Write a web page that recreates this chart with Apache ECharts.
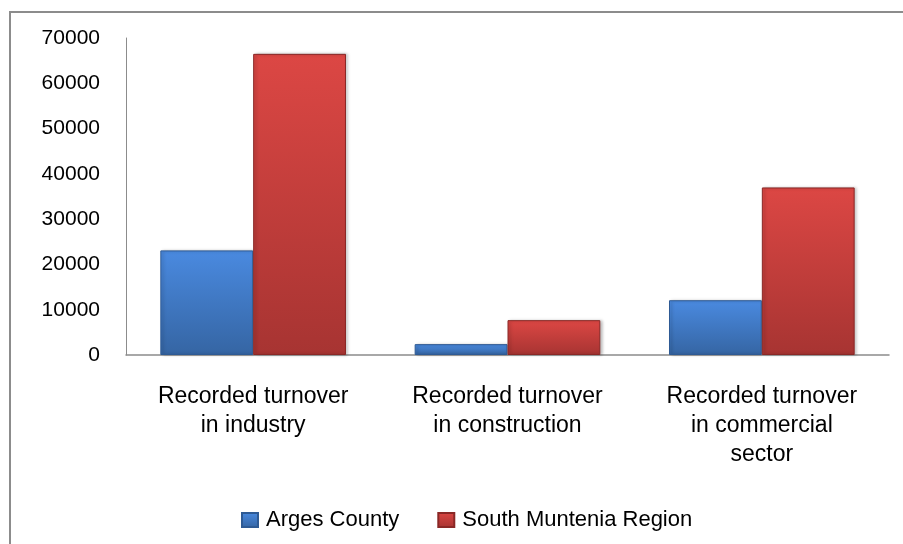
<!DOCTYPE html>
<html>
<head>
<meta charset="utf-8">
<script src="https://cdn.jsdelivr.net/npm/echarts@6/dist/echarts.min.js"></script>
<style>
    html, body { margin: 0; padding: 0; background: #fff; }
    #chart { width: 903px; height: 544px; }
</style>
</head>
<body>
<div id="chart"></div>
<script>
    // data
    var categories = [
        'Recorded turnover\nin industry',
        'Recorded turnover\nin construction',
        'Recorded turnover\nin commercial\nsector'
    ];
    var argesCounty = [23100, 2400, 12100];
    var southMuntenia = [66500, 7700, 37000];
    var seriesNames = ['Arges County', 'South Muntenia Region'];

    function grad(top, bottom) {
        return new echarts.graphic.LinearGradient(0, 0, 0, 1, [
            { offset: 0, color: top },
            { offset: 1, color: bottom }
        ]);
    }

    var chart = echarts.init(document.getElementById('chart'));
    chart.setOption({
        animation: false,
        textStyle: { fontFamily: 'Liberation Sans, Arial, sans-serif' },
        graphic: [{
            type: 'rect',
            shape: { x: 10, y: 12, width: 1000, height: 1000 },
            style: { fill: 'none', stroke: '#8c8c8c', lineWidth: 2 },
            silent: true
        }],
        legend: {
            left: 236,
            top: 504,
            icon: 'rect',
            itemWidth: 16,
            itemHeight: 14,
            itemGap: 38,
            textStyle: { fontSize: 22, color: '#000', padding: [0, 0, 0, 3] },
            data: seriesNames
        },
        grid: {
            left: 126,
            right: 14,
            top: 38,
            bottom: 189
        },
        xAxis: {
            type: 'category',
            data: categories,
            axisLine: { show: true, lineStyle: { color: '#8c8c8c', width: 1.5 } },
            axisTick: { show: false },
            axisLabel: {
                color: '#000',
                fontSize: 23,
                lineHeight: 29,
                margin: 27,
                interval: 0
            }
        },
        yAxis: {
            type: 'value',
            min: 0,
            max: 70000,
            interval: 10000,
            splitLine: { show: false },
            axisLine: { show: true, lineStyle: { color: '#8c8c8c', width: 1 } },
            axisTick: { show: false },
            axisLabel: {
                color: '#000',
                fontSize: 21,
                margin: 26,
                formatter: function (v) { return String(v); }
            }
        },
        series: [
            {
                name: seriesNames[0],
                type: 'bar',
                barGap: 0,
                barCategoryGap: '27%',
                data: argesCounty,
                itemStyle: {
                    color: grad('#4a8ae0', '#3565a3'),
                    borderColor: '#2e5a94',
                    borderWidth: 1,
                    shadowColor: 'rgba(0,0,0,0.25)',
                    shadowBlur: 3,
                    shadowOffsetX: 2
                }
            },
            {
                name: seriesNames[1],
                type: 'bar',
                barCategoryGap: '27%',
                data: southMuntenia,
                itemStyle: {
                    color: grad('#dc4744', '#a73432'),
                    borderColor: '#8a2826',
                    borderWidth: 1,
                    shadowColor: 'rgba(0,0,0,0.25)',
                    shadowBlur: 3,
                    shadowOffsetX: 2
                }
            }
        ]
    });
</script>
</body>
</html>
